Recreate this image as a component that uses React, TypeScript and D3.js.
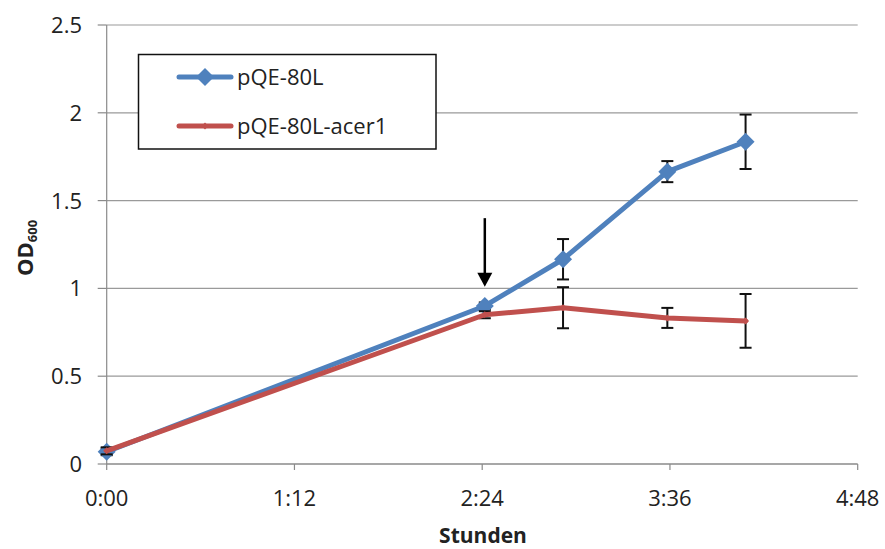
import React from "react";
import * as d3 from "d3";

// Time points in minutes after induction start
const timesBlue = [0, 145, 175, 215, 245];
const timesRed = [0, 145, 175, 215, 245];

// OD600 means and standard deviations
const odBlue = [0.07, 0.9, 1.166, 1.665, 1.835];
const errBlue = [0.02, 0.02, 0.115, 0.06, 0.155];
const odRed = [0.075, 0.85, 0.89, 0.832, 0.815];
const errRed = [0.02, 0.02, 0.117, 0.057, 0.153];

const seriesNames = ["pQE-80L", "pQE-80L-acer1"];
const seriesColors = ["#4F81BD", "#C0504D"];

const xTicks = [0, 72, 144, 216, 288];
const xTickLabels = ["0:00", "1:12", "2:24", "3:36", "4:48"];
const yTicks = [0, 0.5, 1, 1.5, 2, 2.5];
const yTickLabels = ["0", "0.5", "1", "1.5", "2", "2.5"];

// Induction marker: time and OD range of the arrow
const arrowTime = 145;
const arrowFrom = 1.4;
const arrowTo = 1.01;

const W = 885;
const H = 549;
const FONT = "'Open Sans', 'DejaVu Sans', sans-serif";

export default function App() {
  const x = d3.scaleLinear().domain([0, 288]).range([106.7, 857.7]);
  const y = d3.scaleLinear().domain([0, 2.5]).range([464, 25]);

  const line = d3
    .line<[number, number]>()
    .x((d) => x(d[0]))
    .y((d) => y(d[1]));

  const series = [
    { t: timesBlue, v: odBlue, e: errBlue, color: seriesColors[0], marker: 9 },
    { t: timesRed, v: odRed, e: errRed, color: seriesColors[1], marker: 3.5 },
  ];

  const diamond = (cx: number, cy: number, r: number) =>
    `M${cx},${cy - r}L${cx + r},${cy}L${cx},${cy + r}L${cx - r},${cy}Z`;

  const capW = 6;
  const ax = x(arrowTime);
  const ayTop = y(arrowFrom);
  const ayTip = y(arrowTo);
  const headLen = 14;
  const headHalf = 7.5;

  return (
    <svg
      width={W}
      height={H}
      style={{ position: "absolute", left: 0, top: 0, background: "#fff" }}
      fontFamily={FONT}
    >
      <rect x={0} y={0} width={W} height={H} fill="#fff" />

      {/* horizontal gridlines */}
      {yTicks.slice(1).map((t) => (
        <line
          key={"g" + t}
          x1={x(0)}
          x2={x(288)}
          y1={y(t)}
          y2={y(t)}
          stroke="#9a9a9a"
          strokeWidth={1.2}
        />
      ))}

      {/* y axis */}
      <line x1={x(0)} x2={x(0)} y1={y(0)} y2={y(2.5)} stroke="#8a8a8a" strokeWidth={1.2} />
      {yTicks.map((t, i) => (
        <g key={"yt" + t}>
          <line x1={x(0) - 9} x2={x(0)} y1={y(t)} y2={y(t)} stroke="#8a8a8a" strokeWidth={1.2} />
          <text
            x={82}
            y={y(t)}
            dy="0.36em"
            textAnchor="end"
            fontSize={22}
            fill="#222"
          >
            {yTickLabels[i]}
          </text>
        </g>
      ))}

      {/* x axis */}
      <line x1={x(0)} x2={x(288)} y1={y(0)} y2={y(0)} stroke="#8a8a8a" strokeWidth={1.5} />
      {xTicks.map((t, i) => (
        <g key={"xt" + t}>
          <line x1={x(t)} x2={x(t)} y1={y(0)} y2={y(0) + 6} stroke="#8a8a8a" strokeWidth={1.2} />
          <text x={x(t)} y={506} textAnchor="middle" fontSize={22} fill="#222">
            {xTickLabels[i]}
          </text>
        </g>
      ))}

      {/* axis titles */}
      <text x={483} y={543} textAnchor="middle" fontSize={21} fontWeight="bold" fill="#222">
        Stunden
      </text>
      <text
        transform="translate(33,276) rotate(-90)"
        fontSize={22}
        fontWeight="bold"
        fill="#222"
      >
        OD
        <tspan fontSize={13} dy={4}>
          600
        </tspan>
      </text>

      {/* series: error bars, lines, markers */}
      {series.map((s, si) => (
        <g key={"s" + si}>
          {s.t.map((t, i) => {
            const cx = x(t);
            const yt = y(s.v[i] + s.e[i]);
            const yb = y(s.v[i] - s.e[i]);
            return (
              <g key={"e" + i} stroke="#111" strokeWidth={2}>
                <line x1={cx} x2={cx} y1={yt} y2={yb} />
                <line x1={cx - capW} x2={cx + capW} y1={yt} y2={yt} />
                <line x1={cx - capW} x2={cx + capW} y1={yb} y2={yb} />
              </g>
            );
          })}
          <path
            d={line(s.t.map((t, i) => [t, s.v[i]] as [number, number])) || ""}
            fill="none"
            stroke={s.color}
            strokeWidth={5}
            strokeLinejoin="round"
            strokeLinecap="round"
          />
          {s.t.map((t, i) => (
            <path key={"m" + i} d={diamond(x(t), y(s.v[i]), s.marker)} fill={s.color} />
          ))}
        </g>
      ))}

      {/* induction arrow */}
      <line x1={ax} x2={ax} y1={ayTop} y2={ayTip - headLen + 1} stroke="#000" strokeWidth={2.5} />
      <path
        d={`M${ax - headHalf},${ayTip - headLen}L${ax + headHalf},${ayTip - headLen}L${ax},${ayTip}Z`}
        fill="#000"
      />

      {/* legend */}
      <rect x={138.5} y={54.5} width={297.5} height={94.5} fill="#fff" stroke="#111" strokeWidth={1.5} />
      {seriesNames.map((name, i) => {
        const ly = 77 + i * 49;
        return (
          <g key={"l" + i}>
            <line
              x1={179}
              x2={231}
              y1={ly}
              y2={ly}
              stroke={seriesColors[i]}
              strokeWidth={5}
              strokeLinecap="round"
            />
            <path d={diamond(205, ly, i === 0 ? 9 : 3.5)} fill={seriesColors[i]} />
            <text x={237} y={ly} dy="0.36em" fontSize={22} fill="#222">
              {name}
            </text>
          </g>
        );
      })}
    </svg>
  );
}
